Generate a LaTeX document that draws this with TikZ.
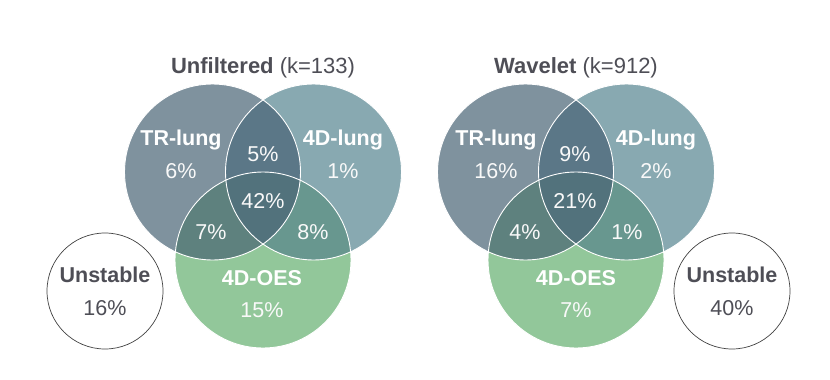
\documentclass[tikz,border=0pt]{standalone}
\usepackage{fontspec}
\setmainfont{Liberation Sans}
\definecolor{trcol}{HTML}{7F929E}
\definecolor{lgcol}{HTML}{88A9B1}
\definecolor{oescol}{HTML}{92C79A}
\definecolor{abcol}{HTML}{5B7787}
\definecolor{accol}{HTML}{5E817E}
\definecolor{bccol}{HTML}{68978F}
\definecolor{abccol}{HTML}{52727C}
\definecolor{txtcol}{HTML}{4E4E56}
\begin{document}
\begin{tikzpicture}[x=1pt,y=-1pt,
  lab/.style={font=\fontsize{21.5}{25}\selectfont\bfseries, text=white, inner sep=0pt},
  pct/.style={font=\fontsize{21.5}{25}\selectfont, text=white!95!gray, inner sep=0pt},
  ttl/.style={font=\fontsize{22}{26}\selectfont, text=txtcol, inner sep=0pt},
  ulab/.style={font=\fontsize{21.5}{25}\selectfont\bfseries, text=txtcol, inner sep=0pt},
  upct/.style={font=\fontsize{21.5}{25}\selectfont, text=txtcol, inner sep=0pt},
  ucirc/.style={circle, draw=black!75, line width=0.7pt, minimum size=116pt, inner sep=0pt},
  edge/.style={draw=white, line width=0.9pt}]
\useasboundingbox (0,0) rectangle (830,380);
\def\R{88pt}
% ---------- left venn ----------
\coordinate (A) at (212.5,172);
\coordinate (B) at (313.5,172);
\coordinate (C) at (263,260);
\fill[trcol] (A) circle (\R);
\fill[lgcol] (B) circle (\R);
\fill[oescol] (C) circle (\R);
\begin{scope}\clip (B) circle (\R); \fill[bccol] (C) circle (\R);\end{scope}
\begin{scope}\clip (A) circle (\R); \fill[abcol] (B) circle (\R); \fill[accol] (C) circle (\R);
  \clip (B) circle (\R); \fill[abccol] (C) circle (\R);\end{scope}
\path[edge] (A) circle (\R) (B) circle (\R) (C) circle (\R);
% ---------- right venn ----------
\coordinate (D) at (525.5,172);
\coordinate (E) at (626.5,172);
\coordinate (F) at (576,260);
\fill[trcol] (D) circle (\R);
\fill[lgcol] (E) circle (\R);
\fill[oescol] (F) circle (\R);
\begin{scope}\clip (E) circle (\R); \fill[bccol] (F) circle (\R);\end{scope}
\begin{scope}\clip (D) circle (\R); \fill[abcol] (E) circle (\R); \fill[accol] (F) circle (\R);
  \clip (E) circle (\R); \fill[abccol] (F) circle (\R);\end{scope}
\path[edge] (D) circle (\R) (E) circle (\R) (F) circle (\R);
% ---------- titles ----------
\node[ttl] (t1) at (263,68) {\textbf{Unfiltered} (k=133)};
\node[ttl] (t2) at (576,68) {\textbf{Wavelet} (k=912)};
% ---------- left labels ----------
\node[lab] (l1) at (181,140) {TR-lung};
\node[pct] (l2) at (181,171) {6\%};
\node[lab] (l3) at (343,140) {4D-lung};
\node[pct] (l4) at (343,171) {1\%};
\node[pct] (l5) at (263,154) {5\%};
\node[pct] (l6) at (263,201) {42\%};
\node[pct] (l7) at (211,232) {7\%};
\node[pct] (l8) at (313,232) {8\%};
\node[lab] (l9) at (262,278) {4D-OES};
\node[pct] (l10) at (262,310) {15\%};
% ---------- right labels ----------
\node[lab] (r1) at (496,140) {TR-lung};
\node[pct] (r2) at (496,171) {16\%};
\node[lab] (r3) at (656,140) {4D-lung};
\node[pct] (r4) at (656,171) {2\%};
\node[pct] (r5) at (575,154) {9\%};
\node[pct] (r6) at (575,201) {21\%};
\node[pct] (r7) at (525,232) {4\%};
\node[pct] (r8) at (627,232) {1\%};
\node[lab] (r9) at (576,278) {4D-OES};
\node[pct] (r10) at (576,310) {7\%};
% ---------- unstable ----------
\node[ucirc] (u1) at (105,291) {};
\node[ulab] (u1a) at (105,275) {Unstable};
\node[upct] (u1b) at (105,308) {16\%};
\node[ucirc] (u2) at (732,291) {};
\node[ulab] (u2a) at (732,275) {Unstable};
\node[upct] (u2b) at (732,308) {40\%};
\end{tikzpicture}
\end{document}
